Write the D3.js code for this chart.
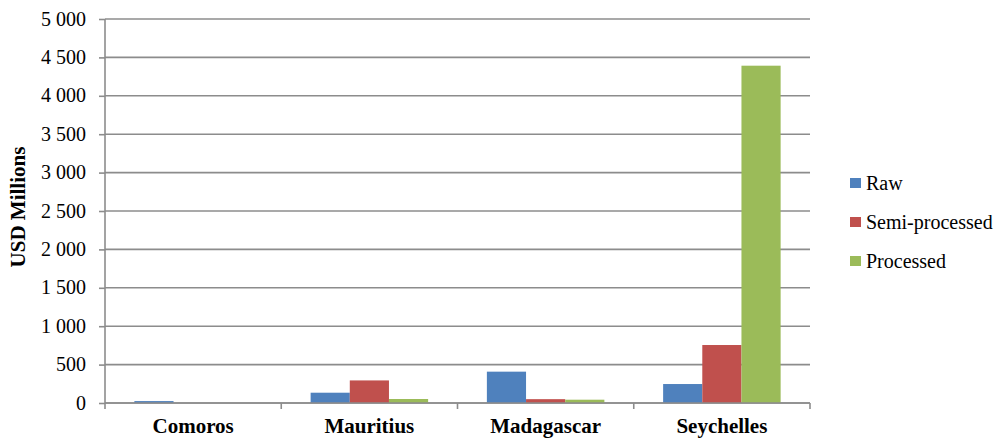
<!DOCTYPE html>
<html>
<head>
<meta charset="utf-8">
<script src="https://cdn.jsdelivr.net/npm/d3@7"></script>
<style>
  html, body { margin: 0; padding: 0; background: #fff; }
  svg { display: block; }
  text { font-family: "Liberation Serif", "Times New Roman", serif; fill: #000; }
</style>
</head>
<body>
<svg id="chart" width="1001" height="439"></svg>
<script>
const categories = ["Comoros", "Mauritius", "Madagascar", "Seychelles"];
const seriesNames = ["Raw", "Semi-processed", "Processed"];
const rawValues = [25, 134, 408, 247];
const semiValues = [0, 294, 50, 755];
const processedValues = [0, 52, 43, 4392];
const tickValues = [0, 500, 1000, 1500, 2000, 2500, 3000, 3500, 4000, 4500, 5000];
const colors = ["#4F81BD", "#C0504D", "#9BBB59"];

(function () {
const seriesValues = [rawValues, semiValues, processedValues];
const svg = d3.select("#chart");
const plotLeft = 105, plotRight = 810, plotTop = 19, plotBottom = 403;
const gridColor = "#8c8c8c";

const y = d3.scaleLinear().domain([0, 5000]).range([plotBottom, plotTop]);
const x0 = d3.scaleBand().domain(categories).range([plotLeft, plotRight]).padding(0);
const bw = x0.bandwidth();
const gapRatio = 1.5; // Excel gap width 150%
const barW = bw / (3 + gapRatio);
const x1 = d3.scaleBand().domain(seriesNames)
  .range([barW * gapRatio / 2, bw - barW * gapRatio / 2]).padding(0);

// Gridlines
svg.append("g").selectAll("line").data(tickValues).join("line")
  .attr("x1", plotLeft).attr("x2", plotRight)
  .attr("y1", d => y(d)).attr("y2", d => y(d))
  .attr("stroke", gridColor).attr("stroke-width", 1.6);

// Y axis
const yAxis = d3.axisLeft(y).tickValues(tickValues).tickSize(6).tickPadding(13)
  .tickFormat(d => d3.format(",")(d).replace(/,/g, " "));
const gy = svg.append("g").attr("transform", `translate(${plotLeft},0)`).call(yAxis);
gy.select(".domain").attr("stroke", gridColor).attr("stroke-width", 1.6).attr("d", `M0,${plotTop}V${plotBottom}`);
gy.selectAll(".tick line").attr("stroke", gridColor).attr("stroke-width", 1.6);
gy.selectAll(".tick text").attr("font-size", 20).attr("font-family", "Liberation Serif").attr("fill", "#000").attr("dy", "0.3em");

// X axis (category boundary ticks)
const boundaries = categories.map(c => x0(c)).concat([plotRight]);
svg.append("g").selectAll("line").data(boundaries).join("line")
  .attr("x1", d => d).attr("x2", d => d)
  .attr("y1", plotBottom).attr("y2", plotBottom + 6)
  .attr("stroke", gridColor).attr("stroke-width", 1.6);

// Bars
const groups = svg.append("g").selectAll("g").data(categories).join("g")
  .attr("transform", c => `translate(${x0(c)},0)`);
groups.selectAll("rect")
  .data((c, i) => seriesNames.map((s, j) => ({ s, j, v: seriesValues[j][i] })))
  .join("rect")
  .attr("x", d => x1(d.s))
  .attr("width", x1.bandwidth())
  .attr("y", d => y(d.v))
  .attr("height", d => y(0) - y(d.v))
  .attr("fill", d => colors[d.j]);

// Baseline on top
svg.append("line").attr("x1", plotLeft).attr("x2", plotRight)
  .attr("y1", y(0)).attr("y2", y(0)).attr("stroke", gridColor).attr("stroke-width", 1.6);

// Category labels
svg.append("g").selectAll("text").data(categories).join("text")
  .attr("x", c => x0(c) + bw / 2).attr("y", 433)
  .attr("text-anchor", "middle").attr("font-size", 21).attr("font-weight", "bold")
  .text(c => c);

// Y title
svg.append("text").attr("transform", "translate(25,207) rotate(-90)")
  .attr("text-anchor", "middle").attr("font-size", 21).attr("font-weight", "bold")
  .text("USD Millions");

// Legend
const legendY = [183, 222, 261];
const lg = svg.append("g").selectAll("g").data(seriesNames).join("g")
  .attr("transform", (d, i) => `translate(850,${legendY[i]})`);
lg.append("rect").attr("x", 0).attr("y", -5).attr("width", 11).attr("height", 10)
  .attr("fill", (d, i) => colors[i]);
lg.append("text").attr("x", 16).attr("y", 7).attr("font-size", 20).text(d => d);
})();
</script>
</body>
</html>
